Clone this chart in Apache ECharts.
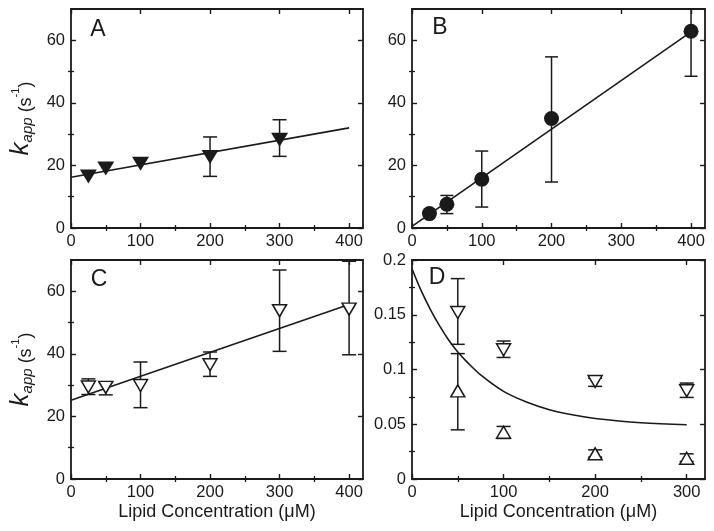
<!DOCTYPE html>
<html>
<head>
<meta charset="utf-8">
<script src="https://cdn.jsdelivr.net/npm/echarts@6/dist/echarts.min.js"></script>
<style>
html,body{margin:0;padding:0;background:#fff;}
#chart{width:714px;height:531px;}
</style>
</head>
<body>
<div id="chart"></div>
<script>
// ---------------- data ----------------
// Panel A (filled down triangles)
const aX = [25, 50, 100, 200, 300];
const aY = [16.5, 19.0, 20.5, 22.7, 28.2];
const aLo = [null, null, null, 16.5, 22.9];
const aHi = [null, null, null, 29.1, 34.6];
const aFitX = [0, 400];
const aFitY = [16.2, 32.0];

// Panel B (filled circles)
const bX = [25, 50, 100, 200, 400];
const bY = [4.6, 7.6, 15.6, 35.0, 62.9];
const bLo = [null, 4.6, 6.7, 14.7, 48.5];
const bHi = [null, 10.4, 24.6, 54.7, 77.3];
const bFitX = [0, 400];
const bFitY = [0.5, 62.7];

// Panel C (open down triangles)
const cX = [25, 50, 100, 200, 300, 400];
const cY = [29.4, 29.3, 29.9, 36.5, 53.8, 54.3];
const cLo = [27.0, 26.9, 22.8, 32.8, 40.8, 39.7];
const cHi = [32.0, 30.8, 37.4, 40.6, 66.8, 69.6];
const cFitX = [0, 400];
const cFitY = [25.2, 55.8];

// Panel D (open down and up triangles)
const dX = [50, 100, 200, 300];
const dDownY = [0.152, 0.118, 0.089, 0.0806];
const dDownLo = [0.123, 0.111, 0.0846, 0.0745];
const dDownHi = [0.183, 0.126, 0.092, 0.0876];
const dUpY = [0.0805, 0.0427, 0.023, 0.019];
const dUpLo = [0.0449, 0.037, 0.020, 0.016];
const dUpHi = [0.1145, 0.048, 0.0266, 0.023];
const dCurveX = [0, 10, 20, 30, 40, 50, 60, 75, 100, 125, 150, 175, 200, 250, 300];
const dCurveY = [0.192, 0.172, 0.155, 0.140, 0.127, 0.116, 0.107, 0.095, 0.080, 0.0703, 0.0633, 0.0586, 0.0553, 0.0514, 0.0496];

// axis ticks
const kMajorX = [0, 100, 200, 300, 400];
const kMinorX = [50, 150, 250, 350];
const kMajorY = [0, 20, 40, 60];
const kMinorY = [10, 30, 50];
const dMajorX = [0, 100, 200, 300];
const dMinorX = [50, 150, 250];
const dMajorY = [0, 0.05, 0.1, 0.15, 0.2];
const dMinorY = [0.025, 0.075, 0.125, 0.175];

const xAxisTitle = 'Lipid Concentration (μM)';
const yAxisTitle = '{k|k}{sub|app}{n| (s}{sup|-1}{n|)}';
const panelLetters = ['A', 'B', 'C', 'D'];

// ---------------- styling ----------------
const FONT = "'Liberation Sans', Arial, Helvetica, sans-serif";
const INK = '#1a1a1a';

const grids = [
  {left: 71, top: 9, width: 292, height: 219},
  {left: 412, top: 9, width: 293, height: 219},
  {left: 71, top: 260, width: 292, height: 219},
  {left: 412, top: 260, width: 293, height: 219}
];

const xAxes = [];
const yAxes = [];

const yNameStyle = {
  fontFamily: FONT,
  color: INK,
  rich: {
    k: {fontSize: 26, fontStyle: 'italic', fontFamily: FONT, color: INK, verticalAlign: 'bottom', padding: [0, 0, 1, 0]},
    sub: {fontSize: 15, fontStyle: 'italic', fontFamily: FONT, color: INK, verticalAlign: 'bottom'},
    n: {fontSize: 18, fontFamily: FONT, color: INK, verticalAlign: 'bottom'},
    sup: {fontSize: 11, fontFamily: FONT, color: INK, verticalAlign: 'bottom', padding: [0, 0, 14, 0]}
  }
};

function axisPair(dim, g, min, max, major, minor, pos, labeled, name) {
  const list = dim === 'x' ? xAxes : yAxes;
  const idx = list.length;
  const majorAx = {
    type: 'value', gridIndex: g, position: pos, min: min, max: max,
    splitLine: {show: false},
    axisLine: {show: true, onZero: false, lineStyle: {color: INK, width: 1.8}},
    axisTick: {show: true, inside: true, length: 5, customValues: major, lineStyle: {color: INK, width: 1.4}},
    axisLabel: {show: labeled, customValues: major, margin: dim === 'x' ? 5 : 6, fontSize: 16.5, color: INK, fontFamily: FONT},
    z: 10
  };
  if (name) {
    majorAx.name = name;
    majorAx.nameLocation = 'middle';
    if (dim === 'x') {
      majorAx.nameGap = 24;
      majorAx.nameTextStyle = {fontSize: 18, fontFamily: FONT, color: INK};
    } else {
      majorAx.nameGap = 36;
      majorAx.nameRotate = 90;
      majorAx.nameTextStyle = yNameStyle;
    }
  }
  list.push(majorAx);
  list.push({
    type: 'value', gridIndex: g, position: pos, min: min, max: max,
    splitLine: {show: false},
    axisLine: {show: false},
    axisTick: {show: true, inside: true, length: 3, customValues: minor, lineStyle: {color: INK, width: 1.3}},
    axisLabel: {show: false},
    z: 10
  });
  return idx;
}

function buildPanel(g, xMax, xMaj, xMin, yMax, yMaj, yMin, xName, yName) {
  const xi = axisPair('x', g, 0, xMax, xMaj, xMin, 'bottom', true, xName);
  axisPair('x', g, 0, xMax, xMaj, xMin, 'top', false, null);
  const yi = axisPair('y', g, 0, yMax, yMaj, yMin, 'left', true, yName);
  axisPair('y', g, 0, yMax, yMaj, yMin, 'right', false, null);
  return {xi: xi, yi: yi};
}

const pA = buildPanel(0, 420, kMajorX, kMinorX, 70, kMajorY, kMinorY, null, yAxisTitle);
const pB = buildPanel(1, 420, kMajorX, kMinorX, 70, kMajorY, kMinorY, null, null);
const pC = buildPanel(2, 420, kMajorX, kMinorX, 70, kMajorY, kMinorY, xAxisTitle, yAxisTitle);
const pD = buildPanel(3, 320, dMajorX, dMinorX, 0.2, dMajorY, dMinorY, xAxisTitle, null);

function pairs(xs, ys) { return xs.map((x, i) => [x, ys[i]]); }

function fitSeries(p, xs, ys, smooth) {
  return {
    type: 'line', xAxisIndex: p.xi, yAxisIndex: p.yi, data: pairs(xs, ys),
    showSymbol: false, symbol: 'none', smooth: smooth ? 0.35 : false,
    lineStyle: {color: INK, width: 1.6}, z: 2, silent: true
  };
}

function errSeries(p, xs, lo, hi, capW) {
  const data = [];
  xs.forEach((x, i) => { if (lo[i] != null && hi[i] != null) data.push([x, lo[i], hi[i]]); });
  return {
    type: 'custom', xAxisIndex: p.xi, yAxisIndex: p.yi, data: data, z: 3, silent: true,
    encode: {x: 0, y: [1, 2]},
    renderItem: function (params, api) {
      const x = api.value(0);
      const pl = api.coord([x, api.value(1)]);
      const ph = api.coord([x, api.value(2)]);
      const cs = params.coordSys;
      const h = capW / 2;
      const st = {stroke: INK, lineWidth: 1.5};
      let top = ph[1];
      let capTop = true;
      if (top < cs.y) { top = cs.y; capTop = false; }
      let bot = pl[1];
      let capBot = true;
      if (bot > cs.y + cs.height) { bot = cs.y + cs.height; capBot = false; }
      const ch = [{type: 'line', shape: {x1: pl[0], y1: bot, x2: pl[0], y2: top}, style: st}];
      if (capTop) ch.push({type: 'line', shape: {x1: ph[0] - h, y1: top, x2: ph[0] + h, y2: top}, style: st});
      if (capBot) ch.push({type: 'line', shape: {x1: pl[0] - h, y1: bot, x2: pl[0] + h, y2: bot}, style: st});
      return {type: 'group', children: ch};
    }
  };
}

function ptSeries(p, xs, ys, symbol, size, rot, filled) {
  return {
    type: 'scatter', xAxisIndex: p.xi, yAxisIndex: p.yi, data: pairs(xs, ys),
    symbol: symbol, symbolSize: size, symbolRotate: rot, z: 4, silent: true,
    itemStyle: filled ? {color: INK, opacity: 1} : {color: '#ffffff', borderColor: INK, borderWidth: 1.5, opacity: 1}
  };
}

const series = [
  fitSeries(pA, aFitX, aFitY, false),
  errSeries(pA, aX, aLo, aHi, 14),
  ptSeries(pA, aX, aY, 'triangle', [17, 14], 180, true),

  fitSeries(pB, bFitX, bFitY, false),
  errSeries(pB, bX, bLo, bHi, 13),
  ptSeries(pB, bX, bY, 'circle', 15, 0, true),

  fitSeries(pC, cFitX, cFitY, false),
  errSeries(pC, cX, cLo, cHi, 14),
  ptSeries(pC, cX, cY, 'triangle', [14, 12], 180, false),

  fitSeries(pD, dCurveX, dCurveY, true),
  errSeries(pD, dX, dDownLo, dDownHi, 14),
  errSeries(pD, dX, dUpLo, dUpHi, 14),
  ptSeries(pD, dX, dDownY, 'triangle', [14, 12], 180, false),
  ptSeries(pD, dX, dUpY, 'triangle', [14, 12], 0, false)
];

const letterPos = [[98, 30], [440, 28], [99, 280], [437, 278]];
const graphic = panelLetters.map((t, i) => ({
  type: 'text', x: letterPos[i][0], y: letterPos[i][1], z: 20,
  style: {text: t, font: '23px ' + FONT, fill: INK, align: 'center', verticalAlign: 'middle'}
}));

const chart = echarts.init(document.getElementById('chart'), null, {renderer: 'canvas'});
chart.setOption({
  backgroundColor: '#ffffff',
  animation: false,
  textStyle: {fontFamily: FONT, color: INK},
  grid: grids,
  xAxis: xAxes,
  yAxis: yAxes,
  series: series,
  graphic: graphic
});
</script>
</body>
</html>
